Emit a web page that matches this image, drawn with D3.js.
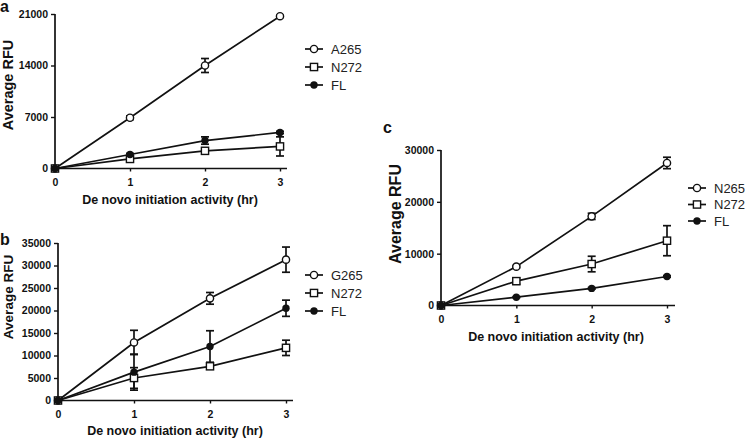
<!DOCTYPE html>
<html>
<head>
<meta charset="utf-8">
<script src="https://cdn.jsdelivr.net/npm/d3@7"></script>
<style>
  body { margin: 0; background: #fff; }
  svg { display: block; font-family: "Liberation Sans", Arial, Helvetica, sans-serif; }
  .tick text { font-weight: bold; font-size: 10.5px; fill: #111; }
  .tick line { stroke: #111; stroke-width: 1.4; }
  .axis-line { stroke: #111; stroke-width: 1.7; }
  .title { font-weight: bold; fill: #111; }
  .legend-text { font-size: 13px; fill: #222; }
</style>
</head>
<body>
<div id="chart"></div>
<script>
// time points (hr)
var hours = [0, 1, 2, 3];

// panel a
var aNames = ["A265", "N272", "FL"];
var aA265 = [0, 6900, 14000, 20700];
var aA265Err = [0, 250, 950, 150];
var aN272 = [0, 1300, 2400, 3000];
var aN272Err = [0, 150, 200, 1300];
var aFL = [0, 1900, 3800, 4900];
var aFLErr = [0, 150, 500, 150];
var aTicks = [0, 7000, 14000, 21000];

// panel b
var bNames = ["G265", "N272", "FL"];
var bG265 = [0, 12900, 22700, 31300];
var bG265Err = [0, 2700, 1300, 2800];
var bN272 = [0, 5000, 7600, 11700];
var bN272Err = [0, 2300, 600, 1700];
var bFL = [0, 6300, 12000, 20500];
var bFLErr = [0, 4000, 3500, 1800];
var bTicks = [0, 5000, 10000, 15000, 20000, 25000, 30000, 35000];

// panel c
var cNames = ["N265", "N272", "FL"];
var cN265 = [0, 7500, 17200, 27500];
var cN265Err = [0, 200, 600, 1100];
var cN272 = [0, 4700, 8000, 12500];
var cN272Err = [0, 600, 1500, 2900];
var cFL = [0, 1600, 3300, 5600];
var cFLErr = [0, 100, 150, 150];
var cTicks = [0, 10000, 20000, 30000];

var shapes = ["circle", "square", "dot"];

var svg = d3.select("#chart").append("svg")
    .attr("width", 745)
    .attr("height", 439);

function drawPanel(p)
{
    var g = svg.append("g").attr("class", "panel panel-" + p.label);

    var x = d3.scaleLinear().domain([0, 3]).range([p.x0, p.x3]);
    var y = d3.scaleLinear().domain([0, p.yMax]).range([p.yBottom, p.yTop]);

    // axes
    var yAxis = d3.axisLeft(y).tickValues(p.ticks).tickSize(4).tickPadding(3).tickFormat(d3.format("d"));
    g.append("g")
        .attr("transform", "translate(" + p.x0 + ",0)")
        .call(yAxis)
        .call(function(s) { s.select(".domain").remove(); });

    var xAxis = d3.axisBottom(x).tickValues(hours).tickSize(3).tickFormat(d3.format("d"));
    var xg = g.append("g")
        .attr("transform", "translate(0," + p.yBottom + ")")
        .call(xAxis)
        .call(function(s) { s.select(".domain").remove(); });
    xg.selectAll(".tick text").attr("y", 17).attr("dy", 0);

    g.append("line").attr("class", "axis-line")
        .attr("x1", p.x0).attr("x2", p.x0)
        .attr("y1", p.yTop).attr("y2", p.yBottom + 0.8);
    g.append("line").attr("class", "axis-line")
        .attr("x1", p.x0 - 0.8).attr("x2", p.xEnd)
        .attr("y1", p.yBottom).attr("y2", p.yBottom);

    // titles
    g.append("text").attr("class", "title")
        .text(p.label)
        .attr("x", p.labelX).attr("y", p.labelY)
        .style("font-size", "16px");

    g.append("text").attr("class", "title")
        .text("De novo initiation activity (hr)")
        .attr("text-anchor", "middle")
        .attr("x", p.xTitleX).attr("y", p.xTitleY)
        .style("font-size", "12.5px");

    g.append("text").attr("class", "title")
        .text("Average RFU")
        .attr("text-anchor", "middle")
        .attr("transform", "translate(" + p.yTitleX + "," + p.yTitleY + ") rotate(-90)")
        .style("font-size", p.yTitleSize + "px");

    var line = d3.line()
        .x(function(d, i) { return x(hours[i]); })
        .y(function(d) { return y(d); });

    // lines
    p.series.forEach(function(s)
    {
        g.append("path")
            .attr("d", line(s.values))
            .attr("fill", "none")
            .attr("stroke", "#111")
            .attr("stroke-width", 1.7);
    });

    // error bars
    p.series.forEach(function(s)
    {
        for (var i = 0; i < hours.length; i++)
        {
            var e = s.err[i];
            if (!e) continue;
            var cx = x(hours[i]);
            var yt = y(s.values[i] + e), yb = y(Math.max(0, s.values[i] - e));
            g.append("line").attr("x1", cx).attr("x2", cx).attr("y1", yt).attr("y2", yb)
                .attr("stroke", "#111").attr("stroke-width", 1.7);
            g.append("line").attr("x1", cx - 4).attr("x2", cx + 4).attr("y1", yt).attr("y2", yt)
                .attr("stroke", "#111").attr("stroke-width", 1.7);
            g.append("line").attr("x1", cx - 4).attr("x2", cx + 4).attr("y1", yb).attr("y2", yb)
                .attr("stroke", "#111").attr("stroke-width", 1.7);
        }
    });

    // markers
    p.series.forEach(function(s, k)
    {
        for (var i = 0; i < hours.length; i++)
        {
            drawMarker(g, shapes[k], x(hours[i]), y(s.values[i]));
        }
    });

    // legend
    p.series.forEach(function(s, k)
    {
        var ly = p.legendY + k * p.legendStep;
        g.append("line")
            .attr("x1", p.legendX).attr("x2", p.legendX + 18)
            .attr("y1", ly).attr("y2", ly)
            .attr("stroke", "#111").attr("stroke-width", 1.7);
        drawMarker(g, shapes[k], p.legendX + 9, ly);
        g.append("text").attr("class", "legend-text")
            .text(s.name)
            .attr("x", p.legendX + 26)
            .attr("y", ly)
            .attr("dy", "0.36em");
    });
}

function drawMarker(g, shape, cx, cy)
{
    if (shape == "circle")
    {
        g.append("circle").attr("cx", cx).attr("cy", cy).attr("r", 3.6)
            .attr("fill", "#fff").attr("stroke", "#111").attr("stroke-width", 1.4);
    }
    else if (shape == "square")
    {
        g.append("rect").attr("x", cx - 3.6).attr("y", cy - 3.6).attr("width", 7.2).attr("height", 7.2)
            .attr("fill", "#fff").attr("stroke", "#111").attr("stroke-width", 1.4);
    }
    else
    {
        g.append("circle").attr("cx", cx).attr("cy", cy).attr("r", 3.7)
            .attr("fill", "#111");
    }
}

drawPanel({
    label: "a", labelX: 0, labelY: 12,
    x0: 55, x3: 280, xEnd: 287,
    yBottom: 168.5, yTop: 14, yMax: 21000, ticks: aTicks,
    xTitleX: 170, xTitleY: 204,
    yTitleX: 13, yTitleY: 85, yTitleSize: 14.5,
    legendX: 305, legendY: 49, legendStep: 18,
    series: [
        {name: aNames[0], values: aA265, err: aA265Err},
        {name: aNames[1], values: aN272, err: aN272Err},
        {name: aNames[2], values: aFL, err: aFLErr}
    ]
});

drawPanel({
    label: "b", labelX: 0, labelY: 245,
    x0: 58, x3: 286, xEnd: 293,
    yBottom: 400.5, yTop: 243, yMax: 35000, ticks: bTicks,
    xTitleX: 175, xTitleY: 435,
    yTitleX: 13, yTitleY: 297, yTitleSize: 13.5,
    legendX: 305, legendY: 275, legendStep: 18,
    series: [
        {name: bNames[0], values: bG265, err: bG265Err},
        {name: bNames[1], values: bN272, err: bN272Err},
        {name: bNames[2], values: bFL, err: bFLErr}
    ]
});

drawPanel({
    label: "c", labelX: 383, labelY: 133,
    x0: 441, x3: 667, xEnd: 675,
    yBottom: 305.5, yTop: 150, yMax: 30000, ticks: cTicks,
    xTitleX: 556, xTitleY: 341,
    yTitleX: 401, yTitleY: 214, yTitleSize: 16,
    legendX: 688, legendY: 188, legendStep: 16.5,
    series: [
        {name: cNames[0], values: cN265, err: cN265Err},
        {name: cNames[1], values: cN272, err: cN272Err},
        {name: cNames[2], values: cFL, err: cFLErr}
    ]
});
</script>
</body>
</html>
